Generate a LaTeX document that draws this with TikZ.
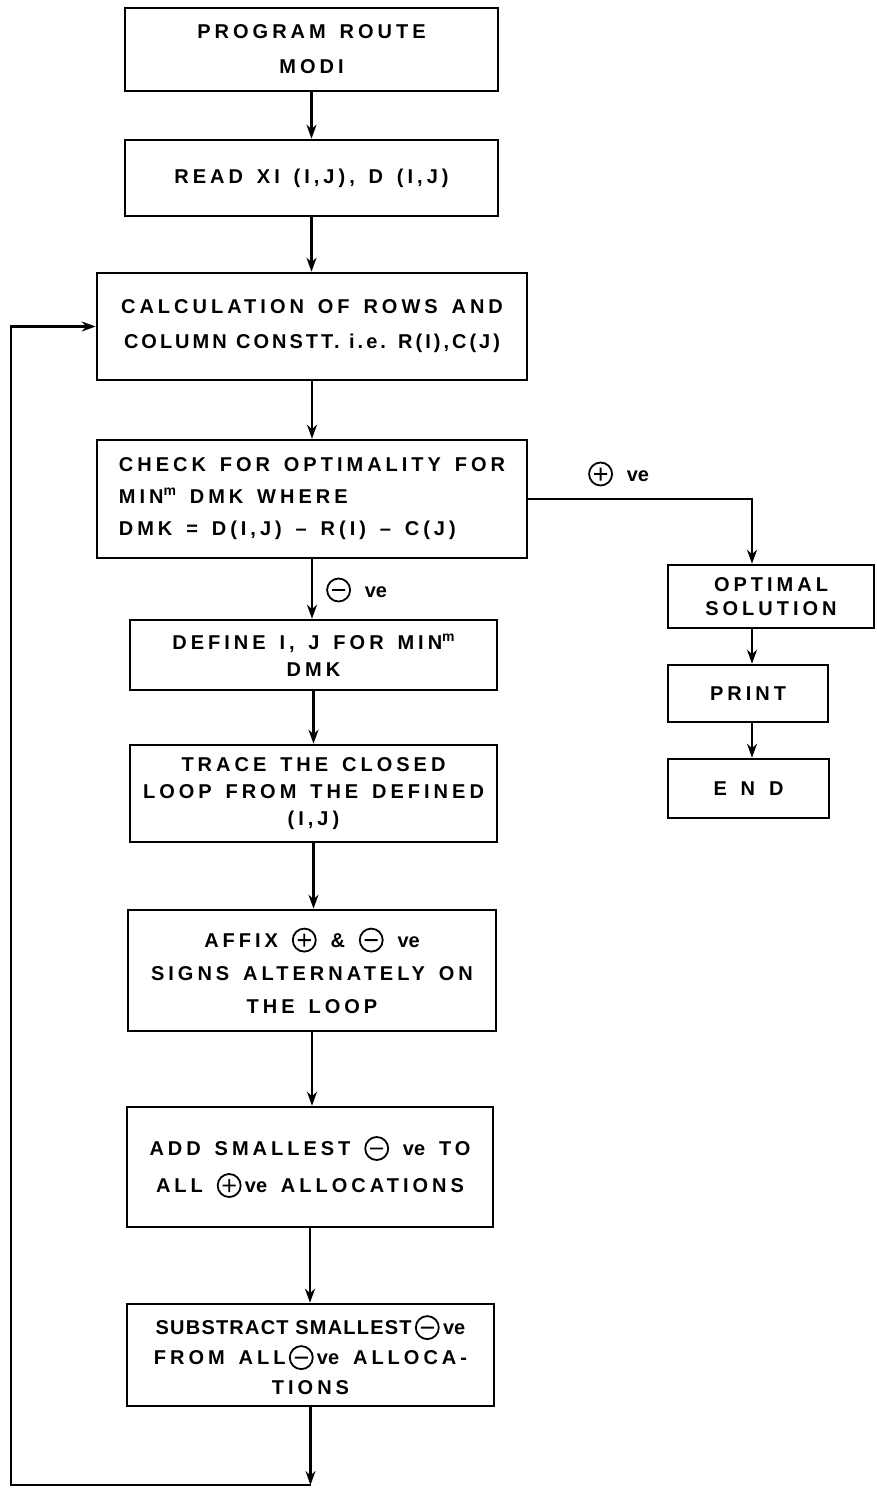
\documentclass[tikz,border=0pt]{standalone}
\usepackage{fontspec}
\usetikzlibrary{arrows.meta}
\newfontfamily\lf{Liberation Sans}[LetterSpace=20,WordSpace=1.45]
\newfontfamily\lfb{Liberation Sans}[LetterSpace=15,WordSpace=1.1]
\newfontfamily\lft{Liberation Sans}[LetterSpace=6]
\newcommand\fs[1]{\lf\bfseries\fontsize{20}{#1}\selectfont}
\newcommand\sgnplus{\tikz[baseline=-7pt]{\draw[line width=1.8pt] (0pt,0pt) circle[radius=11.5pt] (-6.5pt,0pt)--(6.5pt,0pt) (0pt,-6.5pt)--(0pt,6.5pt);}}
\newcommand\sgnminus{\tikz[baseline=-7pt]{\draw[line width=1.8pt] (0pt,0pt) circle[radius=11.5pt] (-6.5pt,0pt)--(6.5pt,0pt);}}
\newcommand\tight[1]{{\lft\bfseries #1}}
\newcommand\ve{{\addfontfeature{LetterSpace=0}ve}}
\newcommand\supm{\raisebox{8pt}{\fontsize{14}{14}\selectfont m}}
\begin{document}
\begin{tikzpicture}[x=1pt,y=-1pt,
  box/.style={draw, line width=2.6pt, inner sep=0pt, align=center, font=\fs{33}},
  arr/.style={-{Stealth[length=14pt,width=10pt]}, line width=2.3pt},
  lab/.style={font=\fs{20}, inner sep=0pt, anchor=west}]
\useasboundingbox (0,0) rectangle (876,1489);
\node[box, minimum width=373pt, minimum height=83pt, font=\fs{35}] (b1) at (311.5,49.5) {PROGRAM ROUTE\\MODI};
\node[box, minimum width=373pt, minimum height=76pt] (b2) at (311.5,178) {READ XI (I,J), D (I,J)};
\node[box, minimum width=430pt, minimum height=107pt, font=\fs{35}] (b3) at (312,326.5) {CALCULATION OF ROWS AND\\{\lfb\bfseries COLUMN CONSTT. i.e. R(I),C(J)}};
\node[box, minimum width=430pt, minimum height=118pt, align=left, font=\fs{32}] (b4) at (312,499) {CHECK FOR OPTIMALITY FOR\\MIN\supm\ DMK WHERE\\DMK = D(I,J) \textendash\ R(I) \textendash\ C(J)};
\node[box, minimum width=367pt, minimum height=70pt, font=\fs{27}] (b5) at (313.5,655) {DEFINE I, J FOR MIN\supm\\DMK};
\node[box, minimum width=367pt, minimum height=97pt, font=\fs{27}] (b6) at (313.5,793.5) {TRACE THE CLOSED\\LOOP FROM THE DEFINED\\(I,J)};
\node[box, minimum width=368pt, minimum height=121pt, font=\fs{33}] (b7) at (312,970.5) {AFFIX \sgnplus\ \& \sgnminus\ \ve\\SIGNS ALTERNATELY ON\\THE LOOP};
\node[box, minimum width=366pt, minimum height=120pt, font=\fs{37}] (b8) at (310,1167) {ADD SMALLEST \sgnminus\ \ve\ TO\\ALL \sgnplus\,\ve\ ALLOCATIONS};
\node[box, minimum width=367pt, minimum height=102pt, font=\fs{30}] (b9) at (310.5,1355) {\tight{SUBSTRACT SMALLEST}\,\sgnminus\,\ve\\FROM ALL\,\sgnminus\,\ve\ ALLOCA-\\TIONS};
\node[box, minimum width=206pt, minimum height=63pt, font=\fs{24}] (opt) at (771,596.5) {OPTIMAL\\SOLUTION};
\node[box, minimum width=160pt, minimum height=57pt] (prt) at (748,693.5) {PRINT};
\node[box, minimum width=161pt, minimum height=59pt] (end) at (748.5,788.5) {E N D};
\node[lab] (lp) at (588,474) {\sgnplus\ \ve};
\node[lab] (lm) at (326,590) {\sgnminus\ \ve};
\coordinate (rc) at (752,0);
\coordinate (lc) at (11,1485);
\coordinate (jn) at (b9.south |- lc);
\draw[arr] (b1.south) -- (b1.south |- b2.north);
\draw[arr] (b2.south) -- (b2.south |- b3.north);
\draw[arr] (b3.south) -- (b3.south |- b4.north);
\draw[arr] (b4.south) -- (b4.south |- b5.north);
\draw[arr] (b5.south) -- (b5.south |- b6.north);
\draw[arr] (b6.south) -- (b6.south |- b7.north);
\draw[arr] (b7.south) -- (b7.south |- b8.north);
\draw[arr] (b8.south) -- (b8.south |- b9.north);
\draw[arr] (b9.south) -- (jn);
\draw[arr] (jn) -- (lc) -- (lc |- b3.west) -- (b3.west);
\draw[arr] (b4.east) -- (b4.east -| rc) -- (rc |- opt.north);
\draw[arr] (rc |- opt.south) -- (rc |- prt.north);
\draw[arr] (rc |- prt.south) -- (rc |- end.north);
\end{tikzpicture}
\end{document}
